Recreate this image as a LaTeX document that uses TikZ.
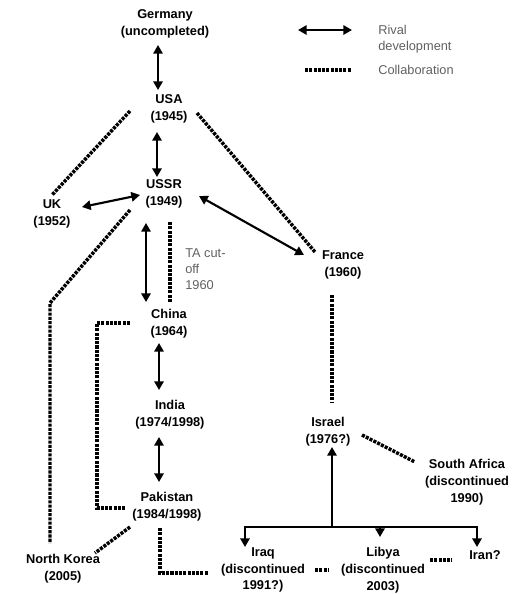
\documentclass[tikz,border=0pt]{standalone}
\usepackage{fontspec}
\setmainfont{Liberation Sans}
\usetikzlibrary{arrows.meta,calc}

\tikzset{
  country/.style={font=\fontsize{9.6}{12.6}\selectfont\bfseries, align=center, inner sep=0pt},
  note/.style={font=\fontsize{9.6}{12}\selectfont, text=black!62, align=left, inner sep=0pt},
  rival/.style={line width=1.6pt, {Triangle[length=6.5pt,width=7pt]}-{Triangle[length=6.5pt,width=7pt]}},
  oneway/.style={line width=1.6pt, -{Triangle[length=6.5pt,width=7pt]}},
  collab/.style={line width=2.6pt, dash pattern=on 2.3pt off 0.9pt}
}

\begin{document}
\begin{tikzpicture}[x=0.75pt,y=-0.75pt]
\useasboundingbox[fill=white] (0,0) rectangle (529,594);

% countries
\node[country] (Germany) at (165,24)  {Germany\\(uncompleted)};
\node[country] (USA)     at (169,109) {USA\\(1945)};
\node[country] (USSR)    at (164,194) {USSR\\(1949)};
\node[country] (UK)      at (52,214)  {UK\\(1952)};
\node[country] (France)  at (343,265) {France\\(1960)};
\node[country] (China)   at (169,324) {China\\(1964)};
\node[country] (India)   at (170,415) {India\\(1974/1998)};
\node[country] (Pakistan) at (167,507) {Pakistan\\(1984/1998)};
\node[country] (NKorea)  at (63,569)  {North Korea\\(2005)};
\node[country] (Israel)  at (328,432) {Israel\\(1976?)};
\node[country] (SAfrica) at (467,482) {South Africa\\(discontinued\\1990)};
\node[country] (Iraq)    at (263,570) {Iraq\\(discontinued\\1991?)};
\node[country] (Libya)   at (383,570) {Libya\\(discontinued\\2003)};
\node[country] (Iran)    at (485,555) {Iran?};

% side note
\node[note, anchor=west] (TA) at (185,269) {TA cut-\\off\\1960};

% legend
\coordinate (rivA) at (298,30);
\coordinate (rivB) at (352,30);
\coordinate (colA) at (305,70);
\coordinate (colB) at (351,70);
\draw[rival] (rivA) -- (rivB);
\draw[collab] (colA) -- (colB);
\node[note, anchor=west] (legRival) at (378,39) {Rival\\development};
\node[note, anchor=west] (legCollab) at (378,70) {Collaboration};

% rival development
\draw[rival] ($(Germany)+(-7,21)$) -- ($(USA)+(-11,-19)$);
\draw[rival] ($(USA)+(-12,23)$) -- ($(USSR)+(-7,-17)$);
\draw[rival] ($(UK)+(30,-7)$) -- ($(USSR)+(-24,1)$);
\draw[rival] ($(USSR)+(35,2)$) -- ($(France)+(-39,-10)$);
\draw[rival] ($(USSR)+(-18,29)$) -- ($(China)+(-23,-22)$);
\draw[rival] ($(China)+(-10,19)$) -- ($(India)+(-11,-25)$);
\draw[rival] ($(India)+(-11,22)$) -- ($(Pakistan)+(-8,-25)$);

% collaboration
\draw[collab] ($(USA)+(-39,2)$) -- ($(UK)+(0,-19)$);
\draw[collab] ($(USA)+(28,4)$) -- ($(France)+(-28,-13)$);
\draw[collab] ($(USSR)+(-34,16)$) -- ($(NKorea)+(-13,-266)$) -- ($(NKorea)+(-13,-26)$);
\draw[collab] ($(USSR)+(6,28)$) -- ($(China)+(1,-22)$);
\draw[collab] ($(China)+(-39,-1)$) -- ($(China)+(-72,-1)$) -- ($(Pakistan)+(-70,1)$) -- ($(Pakistan)+(-42,1)$);
\draw[collab] ($(Pakistan)+(-37,20)$) -- ($(NKorea)+(32,-16)$);
\draw[collab] ($(Pakistan)+(-7,21)$) -- ($(Pakistan)+(-7,66)$) -- ($(Iraq)+(-55,3)$);
\draw[collab] ($(France)+(-11,30)$) -- ($(Israel)+(4,-30)$);
\draw[collab] ($(Israel)+(34,3)$) -- ($(SAfrica)+(-52,-20)$);
\draw[collab] ($(Iraq)+(52,0)$) -- ($(Libya)+(-55,0)$);
\draw[collab] ($(Libya)+(47,-10)$) -- ($(Iran)+(-33,5)$);

% Israel's branching links
\coordinate (fork) at ($(Israel)+(4,95)$);
\draw[oneway] (fork) -- ($(Israel)+(4,15)$);
\draw[oneway] (fork) -| ($(Iraq)+(-18,-23)$);
\draw[oneway] (fork) -| ($(Libya)+(-3,-33)$);
\draw[oneway] (fork) -| ($(Iran)+(-8,-8)$);
\end{tikzpicture}
\end{document}
